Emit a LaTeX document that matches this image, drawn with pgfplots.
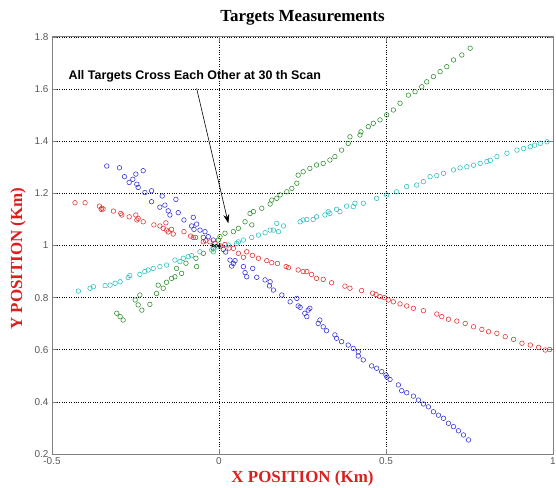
\documentclass[border=0pt]{standalone}
\usepackage{fontspec}
\setmainfont{Liberation Serif}
\newfontfamily\arialf{Liberation Sans}
\usepackage{pgfplots}
\pgfplotsset{compat=1.18}
\usetikzlibrary{arrows.meta}
\definecolor{mred}{RGB}{228,45,45}
\definecolor{mblue}{RGB}{45,45,215}
\definecolor{mgreen}{RGB}{40,140,40}
\definecolor{mcyan}{RGB}{40,190,190}
\definecolor{labred}{RGB}{220,30,30}
\begin{document}
\begin{tikzpicture}
\begin{axis}[
  scale only axis, width=501bp, height=417bp,
  xmin=-0.5, xmax=1, ymin=0.2, ymax=1.8,
  xtick={-0.5,0,0.5,1}, xticklabels={-0.5,0,0.5,1},
  ytick={0.2,0.4,0.6,0.8,1,1.2,1.4,1.6,1.8},
  yticklabels={0.2,0.4,0.6,0.8,1,1.2,1.4,1.6,1.8},
  grid=major, grid style={black, dotted, line width=0.7pt},
  axis line style={black!50, line width=1pt},
  tick style={black!50, line width=0.6pt}, tick align=inside, major tick length=5bp,
  tick label style={font=\arialf\fontsize{10}{12}\selectfont, text=black!65},
  title={Targets Measurements},
  title style={font=\bfseries\fontsize{17}{20}\selectfont, at={(axis description cs:0.5,1)}, anchor=center, yshift=13bp},
  xlabel={X POSITION (Km)},
  xlabel style={font=\bfseries\fontsize{17}{20}\selectfont, text=labred, at={(axis description cs:0.5,0)}, anchor=center, yshift=-24bp},
  ylabel={Y POSITION (Km)},
  ylabel style={font=\bfseries\fontsize{17}{20}\selectfont, text=labred, at={(axis description cs:0,0.5)}, anchor=center, yshift=34bp, xshift=-13bp},
  every axis plot/.append style={only marks, mark=o, mark size=2.3bp, line width=0.55pt},
]
\coordinate (SW) at (rel axis cs:0,0);
\coordinate (NE) at (rel axis cs:1,1);
\addplot[mred] table {
-0.431 1.164
-0.401 1.164
-0.358 1.151
-0.351 1.143
-0.353 1.139
-0.347 1.140
-0.316 1.132
-0.294 1.123
-0.291 1.117
-0.269 1.110
-0.249 1.117
-0.242 1.104
-0.246 1.098
-0.227 1.091
-0.195 1.079
-0.177 1.075
-0.159 1.087
-0.167 1.066
-0.157 1.059
-0.142 1.062
-0.137 1.044
-0.152 1.052
-0.105 1.053
-0.085 1.036
-0.077 1.031
-0.070 1.031
-0.047 1.014
-0.040 1.018
-0.027 1.014
-0.012 1.008
0.005 0.998
0.018 1.004
0.030 0.990
0.043 0.989
0.058 0.970
0.073 0.955
0.083 0.976
0.100 0.962
0.118 0.951
0.143 0.942
0.158 0.934
0.175 0.931
0.201 0.919
0.208 0.915
0.237 0.906
0.252 0.900
0.263 0.900
0.277 0.889
0.292 0.874
0.312 0.870
0.337 0.857
0.377 0.844
0.392 0.836
0.427 0.827
0.460 0.817
0.470 0.812
0.482 0.804
0.495 0.800
0.507 0.791
0.522 0.784
0.542 0.776
0.562 0.768
0.582 0.759
0.612 0.750
0.652 0.737
0.667 0.727
0.687 0.717
0.712 0.710
0.737 0.701
0.762 0.688
0.787 0.678
0.807 0.669
0.832 0.663
0.857 0.650
0.882 0.640
0.907 0.625
0.932 0.618
0.957 0.609
0.977 0.599
0.990 0.601
};
\addplot[mblue] table {
-0.336 1.305
-0.298 1.298
-0.283 1.264
-0.249 1.274
-0.227 1.287
-0.269 1.242
-0.258 1.254
-0.246 1.235
-0.242 1.223
-0.222 1.203
-0.202 1.210
-0.202 1.168
-0.177 1.147
-0.170 1.190
-0.162 1.155
-0.129 1.177
-0.152 1.133
-0.147 1.117
-0.122 1.126
-0.105 1.098
-0.077 1.108
-0.082 1.075
-0.067 1.082
-0.075 1.062
-0.057 1.059
-0.042 1.053
-0.047 1.031
-0.032 1.034
-0.017 1.021
0.013 0.985
0.020 0.975
0.033 0.944
0.043 0.931
0.038 0.921
0.048 0.942
0.073 0.919
0.078 0.896
0.101 0.912
0.083 0.880
0.113 0.878
0.138 0.868
0.153 0.861
0.151 0.845
0.163 0.829
0.188 0.810
0.213 0.784
0.233 0.797
0.237 0.768
0.243 0.763
0.257 0.740
0.267 0.752
0.263 0.727
0.272 0.759
0.302 0.714
0.297 0.701
0.312 0.688
0.322 0.673
0.347 0.657
0.352 0.644
0.367 0.631
0.387 0.618
0.402 0.605
0.417 0.592
0.417 0.576
0.432 0.561
0.457 0.538
0.472 0.529
0.487 0.516
0.500 0.503
0.503 0.495
0.512 0.486
0.537 0.465
0.547 0.443
0.562 0.435
0.582 0.422
0.597 0.407
0.612 0.392
0.627 0.381
0.642 0.362
0.657 0.349
0.672 0.337
0.687 0.318
0.702 0.305
0.717 0.289
0.732 0.273
0.747 0.254
};
\addplot[mgreen] table {
-0.306 0.740
-0.296 0.727
-0.287 0.714
-0.251 0.791
-0.237 0.810
-0.242 0.772
-0.231 0.752
-0.207 0.774
-0.187 0.816
-0.182 0.848
-0.167 0.836
-0.157 0.859
-0.142 0.874
-0.132 0.880
-0.127 0.912
-0.112 0.893
-0.099 0.932
-0.067 0.919
-0.069 0.951
-0.047 0.970
-0.017 0.989
-0.002 1.021
0.003 1.034
0.018 1.047
0.043 1.053
0.058 1.066
0.078 1.091
0.098 1.079
0.093 1.123
0.103 1.130
0.128 1.143
0.153 1.159
0.158 1.174
0.173 1.181
0.183 1.194
0.203 1.206
0.218 1.219
0.233 1.239
0.237 1.270
0.252 1.283
0.272 1.296
0.292 1.309
0.312 1.315
0.332 1.328
0.347 1.341
0.367 1.366
0.387 1.392
0.392 1.417
0.422 1.424
0.425 1.436
0.447 1.456
0.462 1.469
0.482 1.482
0.502 1.501
0.522 1.520
0.542 1.546
0.567 1.577
0.587 1.590
0.607 1.609
0.622 1.628
0.642 1.648
0.662 1.667
0.682 1.686
0.702 1.712
0.727 1.731
0.752 1.757
};
\addplot[mcyan] table {
-0.421 0.825
-0.386 0.836
-0.376 0.842
-0.341 0.846
-0.326 0.848
-0.311 0.855
-0.296 0.861
-0.272 0.877
-0.267 0.885
-0.237 0.889
-0.222 0.900
-0.212 0.906
-0.197 0.912
-0.177 0.919
-0.157 0.925
-0.132 0.944
-0.117 0.938
-0.107 0.951
-0.092 0.957
-0.082 0.961
-0.057 0.976
-0.022 0.983
-0.017 0.976
-0.007 0.995
0.028 1.002
0.053 1.008
0.058 1.014
0.073 1.021
0.098 1.031
0.118 1.040
0.138 1.049
0.153 1.059
0.163 1.059
0.173 1.085
0.178 1.053
0.193 1.075
0.243 1.091
0.252 1.098
0.263 1.100
0.282 1.100
0.292 1.110
0.317 1.117
0.327 1.130
0.332 1.123
0.352 1.139
0.362 1.130
0.382 1.151
0.402 1.149
0.407 1.162
0.432 1.162
0.472 1.181
0.502 1.194
0.532 1.206
0.562 1.226
0.592 1.232
0.612 1.245
0.632 1.264
0.652 1.268
0.672 1.277
0.702 1.290
0.722 1.298
0.742 1.302
0.762 1.308
0.782 1.315
0.802 1.322
0.812 1.327
0.832 1.341
0.862 1.354
0.892 1.366
0.912 1.372
0.932 1.379
0.945 1.385
0.962 1.392
0.982 1.398
};
\addplot[black, mark size=1.6bp] table {
-0.018 1.000
-0.008 0.999
0.002 0.998
};
\node[anchor=west, font=\arialf\bfseries\fontsize{12.5}{14}\selectfont] at (axis cs:-0.461,1.65) {All Targets Cross Each Other at 30 th Scan};
\draw[-{Stealth[length=9bp,width=6bp]}, line width=0.6pt] (axis cs:-0.067,1.603) -- (axis cs:0.028,1.085);
\end{axis}
\pgfresetboundingbox
\path ([shift={(-52bp,-34bp)}]SW) rectangle ([shift={(3bp,37bp)}]NE);
\end{tikzpicture}
\end{document}
